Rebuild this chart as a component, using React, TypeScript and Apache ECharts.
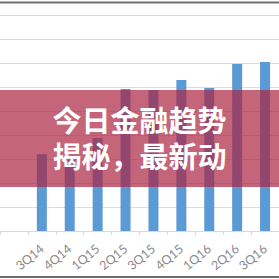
import React, { useEffect, useRef } from "react";
import * as echarts from "echarts";

const categories = ["", "3Q14", "4Q14", "1Q15", "2Q15", "3Q15", "4Q15", "1Q16", "2Q16", "3Q16"];
const values = [null, 32, 29.5, 38.8, 59.2, 58.8, 62.9, 59.6, 69.6, 70.4];
const titleLines = ["今日金融趋势", "揭秘，最新动"];

export default function App() {
  const ref = useRef<HTMLDivElement>(null);
  useEffect(() => {
    if (!ref.current) return;
    const chart = echarts.init(ref.current, undefined, { renderer: "svg" });
    chart.setOption({
      animation: false,
      backgroundColor: "#ffffff",
      grid: { left: -21, right: -10, top: 15, bottom: 48, containLabel: false },
      xAxis: {
        type: "category",
        data: categories,
        axisLine: { show: true, lineStyle: { color: "#d9d9d9", width: 1 } },
        axisTick: { show: true, length: 4, lineStyle: { color: "#d9d9d9" } },
        axisLabel: { rotate: 40, margin: 16, color: "#8a8a8a", fontSize: 12.5, fontFamily: "Lato" },
      },
      yAxis: {
        type: "value",
        min: 0,
        max: 90,
        interval: 10,
        axisLabel: { show: false },
        axisLine: { show: false },
        axisTick: { show: false },
        splitLine: { lineStyle: { color: "#dcdcdc", width: 1 } },
      },
      series: [
        {
          type: "bar",
          data: values,
          barWidth: 10,
          itemStyle: { color: "#5b9bd5" },
        },
      ],
      graphic: [
        { type: "rect", shape: { x: 0, y: 1.5, width: 279, height: 2 }, style: { fill: "#6e6e6e" }, z: 100 },
        { type: "rect", shape: { x: 0, y: 276, width: 279, height: 2 }, style: { fill: "#6e6e6e" }, z: 100 },
        { type: "rect", shape: { x: 0, y: 90, width: 279, height: 97 }, style: { fill: "rgba(171,36,65,0.7)" }, z: 100 },
        {
          type: "text",
          x: 139.5,
          y: 104,
          z: 101,
          style: {
            text: titleLines[0],
            fill: "#ffffff",
            font: "bold 29px 'Noto Sans CJK SC'",
            align: "center",
            verticalAlign: "top",
          },
        },
        {
          type: "text",
          x: 139.5,
          y: 140,
          z: 101,
          style: {
            text: titleLines[1],
            fill: "#ffffff",
            font: "bold 29px 'Noto Sans CJK SC'",
            align: "center",
            verticalAlign: "top",
          },
        },
      ],
    });
    return () => chart.dispose();
  }, []);
  return (
    <div style={{ position: "fixed", left: 0, top: 0, width: 279, height: 279, overflow: "hidden", background: "#fff" }}>
      <div ref={ref} style={{ width: 279, height: 279 }} />
    </div>
  );
}
